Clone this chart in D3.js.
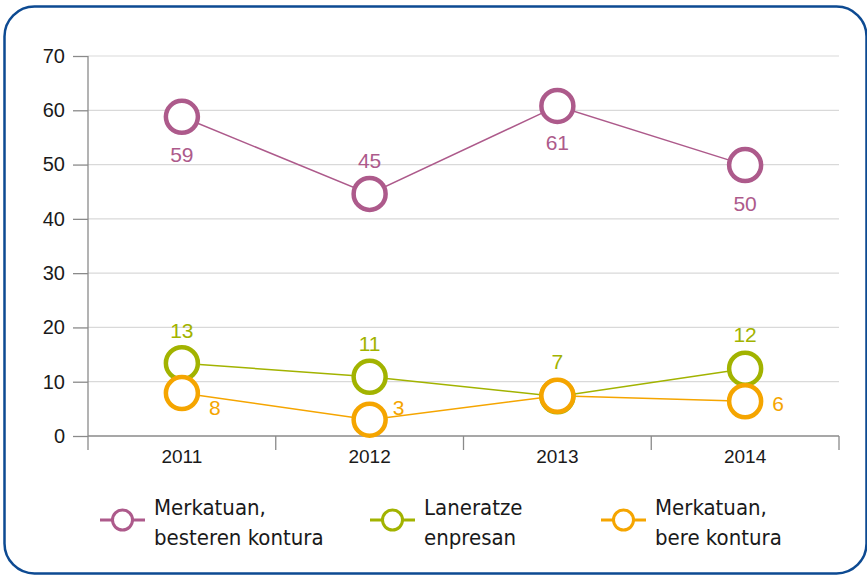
<!DOCTYPE html>
<html>
<head>
<meta charset="utf-8">
<script src="https://cdn.jsdelivr.net/npm/d3@7"></script>
<style>
  body { margin: 0; background: #fff; }
  text { font-family: "Liberation Sans", Arial, sans-serif; }
  .legend text { font-family: "Liberation Sans Narrow", "DejaVu Sans Condensed", sans-serif; }
</style>
</head>
<body>
<div class="chart"></div>
<script>
const svgWidth = 867;
const svgHeight = 575;

// data
const years = ["2011", "2012", "2013", "2014"];
const besteren = [58.8, 44.6, 60.8, 49.9];
const laneratze = [13.4, 10.9, 7.3, 12.4];
const bere = [7.9, 3.0, 7.4, 6.4];
const yTicks = [0, 10, 20, 30, 40, 50, 60, 70];
const seriesNames = [["Merkatuan,", "besteren kontura"], ["Laneratze", "enpresan"], ["Merkatuan,", "bere kontura"]];
const colors = ["#ad5a8b", "#a2b300", "#f5a500"];

const svg = d3.select(".chart")
  .append("svg")
  .attr("width", svgWidth)
  .attr("height", svgHeight);

// rounded frame
svg.append("rect")
  .attr("x", 4.5).attr("y", 6.5)
  .attr("width", 862).attr("height", 567)
  .attr("rx", 30).attr("ry", 30)
  .attr("fill", "none")
  .attr("stroke", "#0d4a92")
  .attr("stroke-width", 2.5);

const x = d3.scaleBand().domain(years).range([88, 839]).paddingInner(0).paddingOuter(0);
const y = d3.scaleLinear().domain([0, 70]).range([436, 56]);

// gridlines
svg.append("g")
  .selectAll("line")
  .data(yTicks.filter(d => d > 0))
  .enter()
  .append("line")
  .attr("x1", 88).attr("x2", 839)
  .attr("y1", d => y(d)).attr("y2", d => y(d))
  .attr("stroke", "#d9d9d9")
  .attr("stroke-width", 1.2);

// y axis
const leftAxis = d3.axisLeft(y).tickValues(yTicks).tickSize(15).tickPadding(8);
const yAxis = svg.append("g")
  .attr("transform", "translate(88,0)")
  .call(leftAxis);
yAxis.select(".domain").remove();
yAxis.selectAll("line").attr("stroke", "#8a8a8a").attr("stroke-width", 1.3);
yAxis.selectAll("text").attr("font-size", 20).attr("fill", "#1a1a1a");
svg.append("line")
  .attr("x1", 88).attr("x2", 88).attr("y1", 56).attr("y2", 450)
  .attr("stroke", "#8a8a8a").attr("stroke-width", 1.3);

// x axis
svg.append("line")
  .attr("x1", 88).attr("x2", 839).attr("y1", y(0)).attr("y2", y(0))
  .attr("stroke", "#8a8a8a").attr("stroke-width", 1.3);
svg.append("g")
  .selectAll("line")
  .data(years.slice(1).concat(["end"]))
  .enter()
  .append("line")
  .attr("x1", d => d === "end" ? 839 : x(d))
  .attr("x2", d => d === "end" ? 839 : x(d))
  .attr("y1", y(0)).attr("y2", 450)
  .attr("stroke", "#8a8a8a").attr("stroke-width", 1.3);
svg.append("g")
  .selectAll("text")
  .data(years)
  .enter()
  .append("text")
  .attr("x", d => x(d) + x.bandwidth() / 2)
  .attr("y", 463)
  .attr("text-anchor", "middle")
  .attr("font-size", 19)
  .attr("fill", "#1a1a1a")
  .text(d => d);

const cx = d => x(d) + x.bandwidth() / 2;
const line = d3.line().x(d => cx(d.year)).y(d => y(d.value));

// label offsets [dx, dy] per point
const labelPos = [
  [[0, 45], [0, -26], [0, 44], [0, 46]],
  [[0, -25], [0, -26], [0, -27], [0, -27]],
  [[33, 22], [29, -5], null, [33, 10]]
];

[besteren, laneratze, bere].forEach((vals, i) => {
  const pts = vals.map((v, j) => ({year: years[j], value: v, pos: labelPos[i][j]}));
  const g = svg.append("g");
  g.append("path")
    .datum(pts)
    .attr("d", line)
    .attr("fill", "none")
    .attr("stroke", colors[i])
    .attr("stroke-width", 1.5);
  g.selectAll("circle")
    .data(pts)
    .enter()
    .append("circle")
    .attr("cx", d => cx(d.year))
    .attr("cy", d => y(d.value))
    .attr("r", 16)
    .attr("fill", "#fff")
    .attr("stroke", colors[i])
    .attr("stroke-width", 4.5);
  g.selectAll(".lbl")
    .data(pts.filter(d => d.pos))
    .enter()
    .append("text")
    .attr("class", "lbl")
    .attr("x", d => cx(d.year) + d.pos[0])
    .attr("y", d => y(d.value) + d.pos[1])
    .attr("text-anchor", "middle")
    .attr("font-size", 21)
    .attr("fill", colors[i])
    .text(d => Math.round(d.value));
});

// legend
const legendX = [100, 370, 601];
const legend = svg.append("g").attr("class", "legend");
seriesNames.forEach((name, i) => {
  const lg = legend.append("g").attr("transform", `translate(${legendX[i]},520)`);
  lg.append("line").attr("x1", 0).attr("x2", 45).attr("y1", 0).attr("y2", 0)
    .attr("stroke", colors[i]).attr("stroke-width", 3);
  lg.append("circle").attr("cx", 22.5).attr("cy", 0).attr("r", 10)
    .attr("fill", "#fff").attr("stroke", colors[i]).attr("stroke-width", 3);
  lg.append("text")
    .attr("x", 54)
    .attr("y", -5)
    .attr("font-size", 22)
    .attr("fill", "#1a1a1a")
    .selectAll("tspan")
    .data(name)
    .enter()
    .append("tspan")
    .attr("x", 54)
    .attr("dy", (d, k) => k === 0 ? 0 : 30)
    .text(d => d);
});
</script>
</body>
</html>
